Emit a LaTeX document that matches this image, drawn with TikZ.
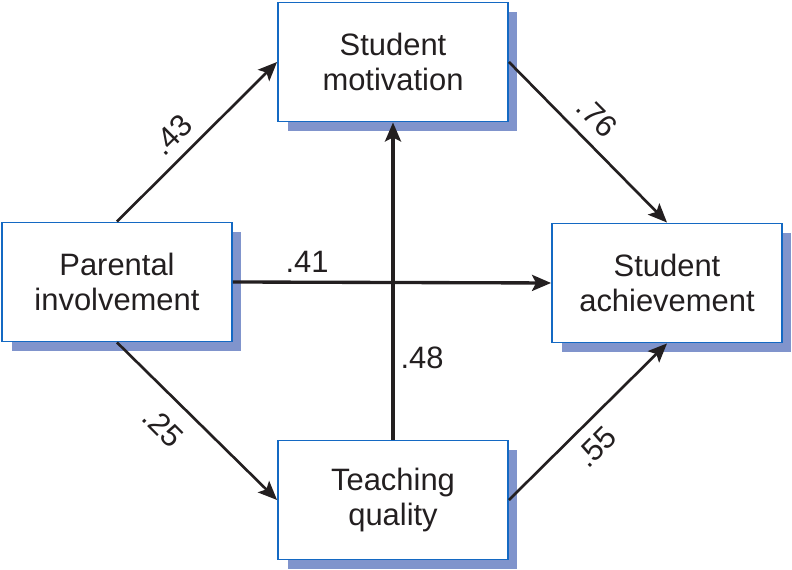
\documentclass[tikz,border=0pt]{standalone}
\usepackage{fontspec}
\setmainfont{Liberation Sans}
\usepackage{tikz}
\usetikzlibrary{arrows.meta, positioning, shadows}
\usepackage{xcolor}

\definecolor{boxblue}{RGB}{20,105,195}
\definecolor{shadeblue}{RGB}{128,148,204}
\definecolor{inkgray}{RGB}{35,31,32}

\begin{document}
\begin{tikzpicture}[
    x=0.02cm,
    y=0.02cm,
    factor/.style={rectangle, draw=boxblue, fill=white, line width=1.1pt, minimum width=4.6cm, minimum height=2.38cm, align=center, text=inkgray, font=\fontsize{17.6}{19.9}\selectfont, drop shadow={shadow xshift=0.19cm, shadow yshift=-0.19cm, fill=shadeblue, opacity=1}},
    path/.style={draw=inkgray, line width=1.5pt, -{Stealth[length=0.38cm, width=0.32cm, inset=0.08cm]}},
    coef/.style={text=inkgray, font=\fontsize{17.6}{19.9}\selectfont, inner sep=1pt}
]
\useasboundingbox (0,0) rectangle (792,570);

% Boxes
\node [factor] (motiv) at (393, 508) {Student\\motivation};
\node [factor] (parent) at (117, 288) {Parental\\involvement};
\node [factor] (achieve) at (667, 287) {Student\\achievement};
\node [factor] (teach) at (393, 70) {Teaching\\quality};

% Paths
\draw [path] (parent.north) -- (motiv.west);
\draw [path] (motiv.east) -- (achieve.north);
\draw [path, line width=1.9pt] (parent.east) -- (achieve.west);
\draw [path, line width=1.9pt] (teach.north) -- (motiv.south);
\draw [path] (parent.south) -- (teach.west);
\draw [path] (teach.east) -- (achieve.south);

% Path coefficients
\node [coef, rotate=45] (c43) at (172, 435) {.43};
\node [coef, rotate=-45] (c76) at (597, 453) {.76};
\node [coef] (c41) at (307, 308) {.41};
\node [coef] (c48) at (422, 212) {.48};
\node [coef, rotate=-45] (c25) at (163, 143) {.25};
\node [coef, rotate=45] (c55) at (596, 123) {.55};

\end{tikzpicture}
\end{document}
